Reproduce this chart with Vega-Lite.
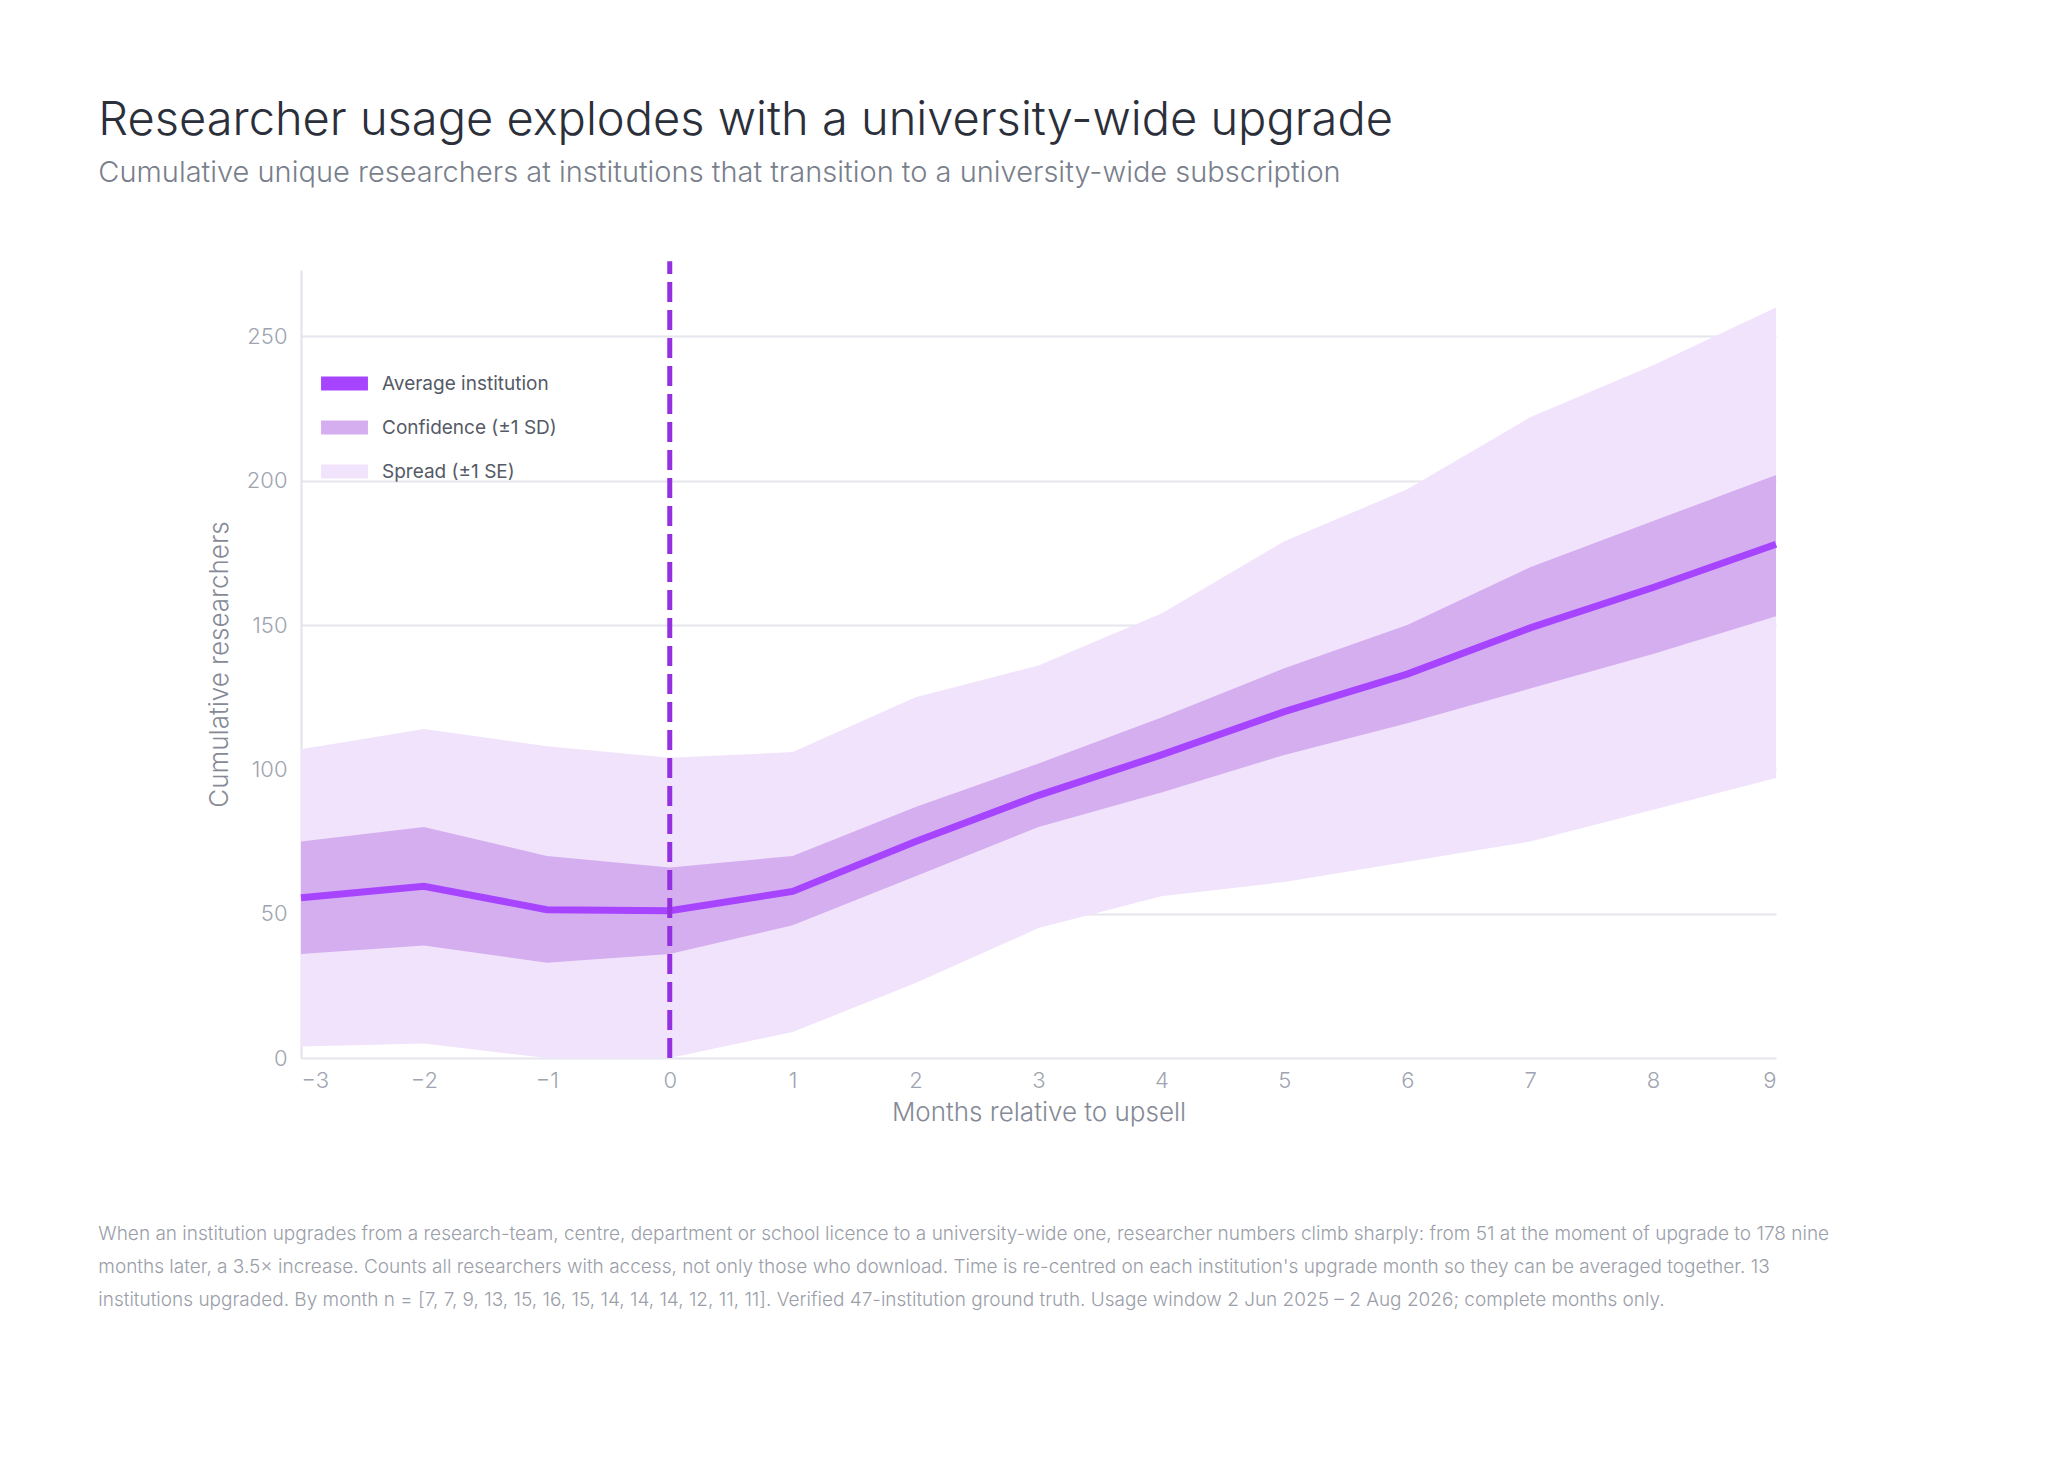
{
  "$schema": "https://vega.github.io/schema/vega-lite/v6.json",
  "background": "white",
  "padding": {"left": 98, "top": 96, "right": 0, "bottom": 20},
  "title": {
    "text": "Researcher usage explodes with a university-wide upgrade",
    "subtitle": "Cumulative unique researchers at institutions that transition to a university-wide subscription",
    "anchor": "start",
    "offset": 70,
    "font": "Inter",
    "fontWeight": 300,
    "fontSize": 47,
    "color": "#2b2f3a",
    "subtitleFont": "Inter",
    "subtitleFontWeight": 300,
    "subtitleFontSize": 29,
    "subtitleColor": "#7a7f8c",
    "subtitlePadding": 14
  },
  "config": {
    "view": {"stroke": null},
    "font": "Inter",
    "legend": {"orient": "none", "legendX": 20, "legendY": 90}
  },
  "vconcat": [
    {
      "width": 1475,
      "height": 788,
      "title": {
        "text": [
          "When an institution upgrades from a research-team, centre, department or school licence to a university-wide one, researcher numbers climb sharply: from 51 at the moment of upgrade to 178 nine",
          "months later, a 3.5× increase. Counts all researchers with access, not only those who download. Time is re-centred on each institution's upgrade month so they can be averaged together. 13",
          "institutions upgraded. By month n = [7, 7, 9, 13, 15, 16, 15, 14, 14, 14, 12, 11, 11]. Verified 47-institution ground truth. Usage window 2 Jun 2025 – 2 Aug 2026; complete months only."
        ],
        "orient": "bottom",
        "anchor": "start",
        "frame": "bounds",
        "dx": -108,
        "offset": 100,
        "font": "Inter",
        "fontWeight": 300,
        "fontSize": 19,
        "lineHeight": 33,
        "color": "#9a9ea8"
      },
      "data": {
        "values": [
          {"month": -3, "mean": 55.5, "sd_lo": 36, "sd_hi": 75, "se_lo": 4, "se_hi": 107},
          {"month": -2, "mean": 59.5, "sd_lo": 39, "sd_hi": 80, "se_lo": 5, "se_hi": 114},
          {"month": -1, "mean": 51.4, "sd_lo": 33, "sd_hi": 70, "se_lo": 0, "se_hi": 108},
          {"month": 0, "mean": 51, "sd_lo": 36, "sd_hi": 66, "se_lo": 0, "se_hi": 104},
          {"month": 1, "mean": 57.7, "sd_lo": 46, "sd_hi": 70, "se_lo": 9, "se_hi": 106},
          {"month": 2, "mean": 75, "sd_lo": 63, "sd_hi": 87, "se_lo": 26, "se_hi": 125},
          {"month": 3, "mean": 91, "sd_lo": 80, "sd_hi": 102, "se_lo": 45, "se_hi": 136},
          {"month": 4, "mean": 105, "sd_lo": 92, "sd_hi": 118, "se_lo": 56, "se_hi": 154},
          {"month": 5, "mean": 120, "sd_lo": 105, "sd_hi": 135, "se_lo": 61, "se_hi": 179},
          {"month": 6, "mean": 133, "sd_lo": 116, "sd_hi": 150, "se_lo": 68, "se_hi": 197},
          {"month": 7, "mean": 149, "sd_lo": 128, "sd_hi": 170, "se_lo": 75, "se_hi": 222},
          {"month": 8, "mean": 163, "sd_lo": 140, "sd_hi": 186, "se_lo": 86, "se_hi": 240},
          {"month": 9, "mean": 178, "sd_lo": 153, "sd_hi": 202, "se_lo": 97, "se_hi": 260}
        ]
      },
      "encoding": {
        "x": {
          "field": "month",
          "type": "quantitative",
          "scale": {"domain": [-3, 9], "nice": false},
          "axis": {
            "title": "Months relative to upsell",
            "values": [-3, -2, -1, 0, 1, 2, 3, 4, 5, 6, 7, 8, 9],
            "grid": false,
            "domain": false,
            "ticks": false,
            "labelPadding": 12,
            "labelFontSize": 22,
            "labelColor": "#a0a4b0",
            "labelFontWeight": 300,
            "titleFontSize": 26,
            "titleFontWeight": 300,
            "titleColor": "#858a96",
            "titlePadding": 8
          }
        }
      },
      "layer": [
        {
          "mark": {"type": "area", "opacity": 1},
          "encoding": {
            "y": {
              "field": "se_lo",
              "type": "quantitative",
              "scale": {"domain": [0, 273], "nice": false},
              "axis": {
                "title": "Cumulative researchers",
                "values": [0, 50, 100, 150, 200, 250],
                "gridColor": "#e6e6ee",
                "gridWidth": 2,
                "domainColor": "#e2e2ea",
                "domainWidth": 2,
                "ticks": false,
                "labelPadding": 14,
                "labelFontSize": 22,
                "labelColor": "#a0a4b0",
                "labelFontWeight": 300,
                "titleFontSize": 26,
                "titleFontWeight": 300,
                "titleColor": "#858a96",
                "titlePadding": 14
              }
            },
            "y2": {"field": "se_hi"},
            "color": {
              "datum": "Spread (±1 SE)",
              "type": "nominal",
              "scale": {
                "domain": ["Average institution", "Confidence (±1 SD)", "Spread (±1 SE)"],
                "range": ["#a744ff", "#d5aef0", "#f1e3fc"]
              },
              "legend": {
                "title": null,
                "symbolType": "M-1,-0.3H1V0.3H-1Z",
                "symbolSize": 2200,
                "symbolStrokeWidth": 0,
                "labelFontSize": 19,
                "labelLimit": 400,
                "labelColor": "#555a66",
                "rowPadding": 10,
                "labelOffset": 14
              }
            }
          }
        },
        {
          "mark": {"type": "area", "opacity": 1},
          "encoding": {
            "y": {"field": "sd_lo", "type": "quantitative"},
            "y2": {"field": "sd_hi"},
            "color": {"datum": "Confidence (±1 SD)", "type": "nominal"}
          }
        },
        {
          "mark": {"type": "line", "strokeWidth": 7},
          "encoding": {
            "y": {"field": "mean", "type": "quantitative"},
            "color": {"datum": "Average institution", "type": "nominal"}
          }
        },
        {
          "data": {"values": [{"x": 0, "y0": 0, "y1": 276}]},
          "mark": {"type": "rule", "color": "#9430e0", "strokeWidth": 5, "strokeDash": [20, 8], "clip": false},
          "encoding": {
            "x": {"field": "x", "type": "quantitative"},
            "y": {"field": "y0", "type": "quantitative"},
            "y2": {"field": "y1"}
          }
        }
      ]
    }
  ]
}
